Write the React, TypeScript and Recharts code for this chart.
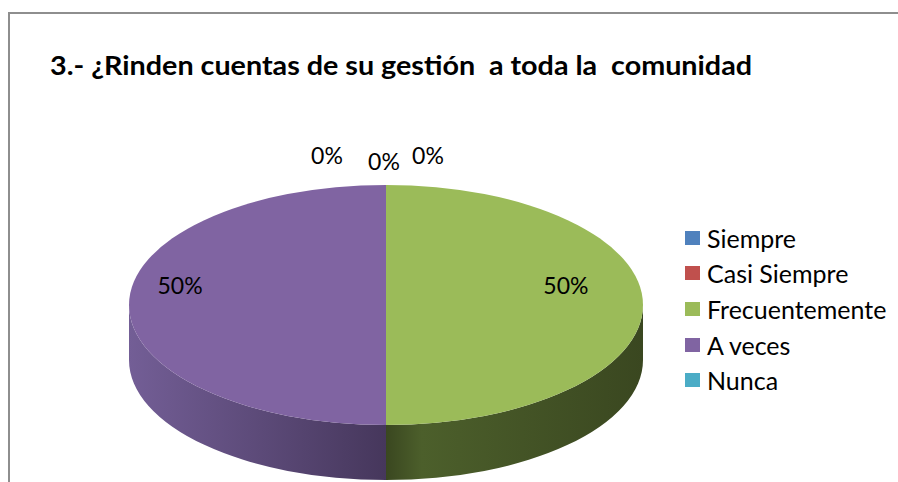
import { PieChart, Pie, Cell, Legend } from 'recharts';

const categories = ['Siempre', 'Casi Siempre', 'Frecuentemente', 'A veces', 'Nunca'];
const values = [0, 0, 50, 50, 0];
const colors = ['#4f81bd', '#c0504d', '#9bbb59', '#8064a2', '#4bacc6'];
const sideColors = [
    ['#3a5f8c', '#2a4566'],
    ['#8f3b39', '#682a29'],
    ['#4c5f2b', '#3a4720'],
    ['#735e96', '#46375c'],
    ['#38808f', '#285c67'],
];

const title = '3.- ¿Rinden cuentas de su gestión  a toda la  comunidad';

const data = categories.map((name, i) => ({ name, value: values[i] }));

const TILT = 0.467; // ry / rx of the top face
const DEPTH = 55;
const FONT = 'Lato, "Liberation Sans", sans-serif';

// excel spreads the stacked 0% labels sideways so they don't overlap,
// and sets the left 50% a bit further out than the right one
const labelNudge: Record<number, [number, number]> = {
    0: [42, 0],
    1: [-59, 0],
    3: [-26, 0],
    4: [-2, 6],
};

const RAD = Math.PI / 180;

// point on the ellipse, angles in recharts' convention (deg, ccw from 3 o'clock)
const pt = (cx: number, cy: number, rx: number, a: number) => [
    cx + rx * Math.cos(a * RAD),
    cy - rx * TILT * Math.sin(a * RAD),
];

function Slice3D(props: any) {
    const { cx, cy, outerRadius, startAngle, endAngle, fill, index } = props;
    if (Math.abs(startAngle - endAngle) < 0.01) return <g />;
    const rx = outerRadius;
    const ry = rx * TILT;
    const lo = Math.min(startAngle, endAngle);
    const hi = Math.max(startAngle, endAngle);
    const large = hi - lo > 180 ? 1 : 0;

    // visible front part of the side wall: where sin(a) < 0
    const walls: [number, number][] = [];
    for (let k = -2; k <= 2; k++) {
        const a = Math.max(lo, k * 360 - 180);
        const b = Math.min(hi, k * 360);
        if (b - a > 0.01) walls.push([a, b]);
    }

    const gid = `side-grad-${index}`;
    const [s0, s1] = pt(cx, cy, rx, hi);
    const [e0, e1] = pt(cx, cy, rx, lo);
    // top face drawn clockwise on screen from hi to lo
    const top = `M${cx},${cy} L${s0},${s1} A${rx},${ry} 0 ${large} 1 ${e0},${e1} Z`;

    return (
        <g>
            <defs>
                <linearGradient id={gid} gradientUnits="userSpaceOnUse" x1={cx - rx} x2={cx + rx} y1={0} y2={0}>
                    <stop offset="0%" stopColor={sideColors[index][0]} />
                    <stop offset="50%" stopColor={sideColors[index][1]} />
                    <stop offset="57%" stopColor={sideColors[index][0]} />
                    <stop offset="100%" stopColor={sideColors[index][1]} />
                </linearGradient>
            </defs>
            {walls.map(([a, b], i) => {
                const [x1, y1] = pt(cx, cy, rx, b);
                const [x2, y2] = pt(cx, cy, rx, a);
                const lg = b - a > 180 ? 1 : 0;
                const d = `M${x1},${y1} A${rx},${ry} 0 ${lg} 1 ${x2},${y2} L${x2},${y2 + DEPTH} A${rx},${ry} 0 ${lg} 0 ${x1},${y1 + DEPTH} Z`;
                return <path key={i} d={d} fill={`url(#${gid})`} />;
            })}
            <path d={top} fill={fill} />
        </g>
    );
}

function renderLabel(props: any) {
    const { cx, cy, midAngle, outerRadius, percent, index } = props;
    const pctText = `${Math.round(percent * 100)}%`;
    let x: number;
    let y: number;
    if (percent === 0) {
        [x, y] = pt(cx, cy, outerRadius * 1.25, midAngle);
    } else {
        [x, y] = pt(cx, cy, outerRadius * 0.7, midAngle);
        y -= 20;
    }
    const n = labelNudge[index] || [0, 0];
    x += n[0];
    y += n[1];
    return (
        <text x={x} y={y} textAnchor="middle" dominantBaseline="central" fill="#000" fontFamily={FONT} fontSize={23}>
            {pctText}
        </text>
    );
}

function LegendContent() {
    return (
        <div style={{ fontFamily: FONT, fontSize: 25, color: '#000' }}>
            {categories.map((c, i) => (
                <div key={c} style={{ display: 'flex', alignItems: 'center', height: 35.6 }}>
                    <span style={{ width: 15, height: 14, background: colors[i], marginRight: 7, display: 'inline-block' }} />
                    <span>{c}</span>
                </div>
            ))}
        </div>
    );
}

export default function App() {
    return (
        <div style={{ position: 'absolute', left: 0, top: 0, width: 898, height: 482, overflow: 'hidden', background: '#fff' }}>
            <div style={{ position: 'absolute', left: 8, top: 12, width: 1000, height: 1000, border: '2px solid #8e8e8e' }} />
            <svg width={898} height={100} style={{ position: 'absolute', left: 0, top: 0 }}>
                <text
                    x={50}
                    y={75}
                    fontFamily={FONT}
                    fontWeight="bold"
                    fontSize={27}
                    fill="#000"
                    textLength={702}
                    lengthAdjust="spacingAndGlyphs"
                    style={{ whiteSpace: 'pre' }}
                >
                    {title}
                </text>
            </svg>
            <div style={{ position: 'absolute', left: 0, top: 0 }}>
                <PieChart width={898} height={482} margin={{ top: 0, right: 0, bottom: 0, left: 0 }}>
                    <Pie
                        data={data}
                        dataKey="value"
                        nameKey="name"
                        cx={386}
                        cy={305}
                        outerRadius={257}
                        startAngle={90}
                        endAngle={-270}
                        stroke="none"
                        shape={Slice3D}
                        activeShape={Slice3D}
                        inactiveShape={Slice3D}
                        label={renderLabel}
                        labelLine={false}
                        isAnimationActive={false}
                    >
                        {data.map((d, i) => (
                            <Cell key={d.name} fill={colors[i]} />
                        ))}
                    </Pie>
                    <Legend
                        layout="vertical"
                        align="right"
                        verticalAlign="top"
                        content={LegendContent}
                        wrapperStyle={{ left: 685, top: 220, width: 220 }}
                    />
                </PieChart>
            </div>
        </div>
    );
}
